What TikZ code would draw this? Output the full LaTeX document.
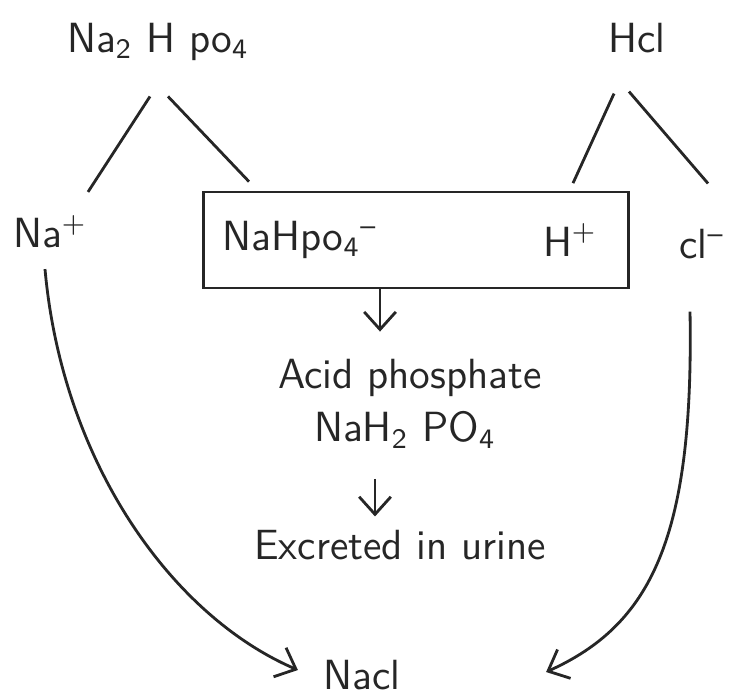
\documentclass[tikz,border=0pt]{standalone}
\usetikzlibrary{arrows.meta, positioning}
\begin{document}
\begin{tikzpicture}[
    x=0.01cm, y=-0.01cm,
    chem/.style={inner sep=0pt, text=black!85, font=\sffamily\fontsize{12}{14}\selectfont},
    line/.style={line width=0.8pt, black!85},
    arr/.style={line, -{Straight Barb[length=5pt, width=9pt]}},
    box/.style={draw, line width=0.8pt, black!85, minimum width=4.25cm, minimum height=0.96cm, inner sep=0pt}
]
\useasboundingbox (0,0) rectangle (737,699);

% Salts
\node[chem] (na2hpo4) at (158,42) {Na\textsubscript{2} H po\textsubscript{4}};
\node[chem] (hcl) at (637,38) {Hcl};

% Ions
\node[chem] (nap) at (50,232) {Na\textsuperscript{+}};
\node[box] (buffer) at (416,240) {};
\node[chem] (nahpo4) at (300,240) {NaHpo\textsubscript{4}\textsuperscript{--}};
\node[chem] (hp) at (570,240) {H\textsuperscript{+}};
\node[chem] (clm) at (702,244) {cl\textsuperscript{--}};

% Products
\node[chem] (acid) at (410,378) {Acid phosphate};
\node[chem] (nah2po4) at (405,430) {NaH\textsubscript{2} PO\textsubscript{4}};
\node[chem] (urine) at (400,545) {Excreted in urine};
\node[chem] (nacl) at (362,675) {Nacl};

% Dissociation
\draw[line] ([shift={(-8,35)}]na2hpo4.south) -- ([shift={(38,-23)}]nap.north);
\draw[line] ([shift={(10,35)}]na2hpo4.south) -- ([shift={(47,-9)}]buffer.north west);
\draw[line] ([shift={(-23,40)}]hcl.south) -- ([shift={(3,-40)}]hp.north);
\draw[line] ([shift={(-8,38)}]hcl.south) -- ([shift={(6,-45)}]clm.north);

% Buffer route
\draw[arr] ([shift={(-36,0)}]buffer.south) -- ([shift={(-30,-27)}]acid.north);
\draw[arr] ([shift={(-30,30)}]nah2po4.south) -- ([shift={(-25,-13)}]urine.north);

% Recombination
\draw[arr] ([shift={(-5,20)}]nap.south) .. controls (62,460) and (170,615) .. ([shift={(-25,-5)}]nacl.west);
\draw[arr] ([shift={(-12,52)}]clm.south) .. controls (694,540) and (650,625) .. ([shift={(145,-3)}]nacl.east);
\end{tikzpicture}
\end{document}
